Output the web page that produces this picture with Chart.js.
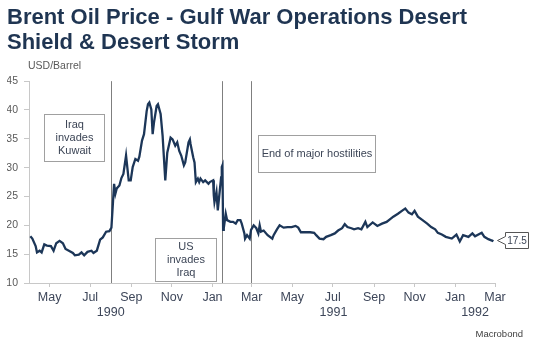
<!DOCTYPE html>
<html>
<head>
<meta charset="utf-8">
<script src="https://cdn.jsdelivr.net/npm/chart.js@4.4.1/dist/chart.umd.min.js"></script>
<style>
  html, body { margin: 0; padding: 0; background: #fff; }
  #wrap { width: 534px; height: 344px; }
</style>
</head>
<body>
<div id="wrap"><canvas id="oilChart" width="534" height="344"></canvas></div>
<script>
// Brent price readings (USD/Barrel)
const dates = [
  '1990-04-02','1990-04-05','1990-04-10','1990-04-12','1990-04-16','1990-04-19','1990-04-23','1990-04-27',
  '1990-05-03','1990-05-07','1990-05-11','1990-05-16','1990-05-21','1990-05-25','1990-05-30',
  '1990-06-05','1990-06-08','1990-06-14','1990-06-18','1990-06-22','1990-06-27',
  '1990-07-03','1990-07-06','1990-07-11','1990-07-16','1990-07-20','1990-07-25','1990-07-30',
  '1990-08-02','1990-08-06','1990-08-08','1990-08-10','1990-08-14','1990-08-17','1990-08-20','1990-08-24','1990-08-28','1990-08-31',
  '1990-09-03','1990-09-07','1990-09-11','1990-09-13','1990-09-17','1990-09-20','1990-09-24','1990-09-26','1990-09-28',
  '1990-10-01','1990-10-03','1990-10-05','1990-10-09','1990-10-11','1990-10-15','1990-10-18','1990-10-22','1990-10-25','1990-10-30',
  '1990-11-02','1990-11-06','1990-11-09','1990-11-12','1990-11-15','1990-11-19','1990-11-21','1990-11-26','1990-11-28','1990-11-29',
  '1990-12-03','1990-12-05','1990-12-07','1990-12-10','1990-12-12','1990-12-14','1990-12-18','1990-12-21','1990-12-26','1990-12-28',
  '1991-01-02','1991-01-03','1991-01-04','1991-01-07','1991-01-09','1991-01-11','1991-01-14','1991-01-15','1991-01-16',
  '1991-01-17','1991-01-18','1991-01-21','1991-01-23','1991-01-28',
  '1991-02-01','1991-02-05','1991-02-08','1991-02-12','1991-02-14','1991-02-18','1991-02-19','1991-02-22','1991-02-26','1991-02-28',
  '1991-03-04','1991-03-08','1991-03-11','1991-03-13','1991-03-15','1991-03-19','1991-03-25',
  '1991-04-01','1991-04-03','1991-04-08','1991-04-12','1991-04-18','1991-04-24','1991-04-30',
  '1991-05-06','1991-05-10','1991-05-14','1991-05-20','1991-05-28',
  '1991-06-03','1991-06-06','1991-06-11','1991-06-17','1991-06-21','1991-06-28',
  '1991-07-04','1991-07-09','1991-07-15','1991-07-19','1991-07-23','1991-07-29',
  '1991-08-02','1991-08-08','1991-08-13','1991-08-19','1991-08-22','1991-08-30',
  '1991-09-06','1991-09-13','1991-09-20','1991-09-30',
  '1991-10-07','1991-10-14','1991-10-18','1991-10-23','1991-10-28',
  '1991-11-01','1991-11-06','1991-11-13','1991-11-20','1991-11-26',
  '1991-12-02','1991-12-06','1991-12-12','1991-12-18','1991-12-27',
  '1992-01-03','1992-01-08','1992-01-13','1992-01-21','1992-01-27','1992-01-31',
  '1992-02-10','1992-02-14','1992-02-20','1992-02-26','1992-02-27'
];
const prices = [
  18.1, 17.7, 16.4, 15.3, 15.6, 15.3, 16.7, 16.5,
  16.4, 15.6, 16.9, 17.3, 16.9, 15.9, 15.6,
  15.2, 14.8, 14.9, 15.3, 14.8, 15.4,
  15.6, 15.2, 15.6, 17.5, 17.9, 18.9, 19.0,
  19.6, 27.2, 25.5, 26.4, 26.9, 28.2, 28.9, 32.1, 27.8, 27.8,
  30.1, 31.5, 31.2, 31.9, 34.7, 35.8, 39.8, 41.0, 41.3,
  40.1, 35.8, 37.8, 40.7, 41.0, 39.3, 35.5, 27.8, 32.6, 35.2,
  34.9, 33.8, 34.4, 32.9, 32.1, 30.4, 30.9, 34.4, 34.9, 34.1,
  31.8, 30.9, 27.5, 28.1, 27.5, 28.1, 27.5, 27.8, 27.2, 27.5,
  27.8, 25.2, 24.0, 25.8, 22.6, 24.9, 28.3, 30.1, 30.4,
  19.2, 19.5, 22.0, 20.9, 20.6,
  20.6, 20.3, 20.9, 20.9, 20.3, 18.6, 17.7, 18.3, 17.7, 19.2,
  20.0, 19.5, 18.6, 20.0, 18.9, 19.1, 18.3,
  17.7, 18.3, 19.3, 20.0, 19.6, 19.7, 19.7,
  19.9, 19.6, 18.8, 18.8, 18.8,
  18.7, 18.3, 17.7, 17.6, 18.0, 18.3,
  18.6, 19.1, 19.5, 20.2, 19.7, 19.5,
  19.3, 19.5, 19.3, 20.6, 19.7, 20.5,
  19.9, 20.3, 20.6, 21.5,
  22.0, 22.6, 22.9, 22.2, 21.9,
  22.5, 21.5, 20.9, 20.3, 19.7,
  19.3, 18.7, 18.4, 18.0, 17.7,
  18.4, 17.2, 18.3, 18.0, 18.6, 18.1,
  18.7, 18.0, 17.6, 17.3, 17.5
];

// axis
const axisStart = '1990-03-31';
const axisEnd = '1992-03-01';
const tickDates = ['1990-05-01','1990-07-01','1990-09-01','1990-11-01','1991-01-01','1991-03-01',
                   '1991-05-01','1991-07-01','1991-09-01','1991-11-01','1992-01-01','1992-03-01'];
const tickLabels = ['May','Jul','Sep','Nov','Jan','Mar','May','Jul','Sep','Nov','Jan','Mar'];
const yearDates = ['1990-08-01','1991-07-02','1992-01-31'];
const yearLabels = ['1990','1991','1992'];

// events + notes
const eventDates = ['1990-08-02','1991-01-16','1991-02-28'];
const noteText = [['Iraq','invades','Kuwait'], ['US','invades','Iraq'], ['End of major hostilities']];
const noteFrom = ['1990-04-22','1990-10-07','1991-03-10'];
const noteTo = ['1990-07-22','1991-01-06','1991-09-02'];
const noteTop = [39.3, 17.8, 35.7];
const noteBottom = [31.2, 10.4, 29.2];

const FONT = "'Liberation Sans', Arial, sans-serif";
Chart.defaults.font.family = FONT;

function dayNum(s) {
  const p = s.split('-');
  return (Date.UTC(+p[0], p[1] - 1, +p[2]) - Date.UTC(1990, 0, 1)) / 86400000;
}

const points = dates.map((d, i) => ({ x: dayNum(d), y: prices[i] }));

const overlay = {
  id: 'overlay',
  beforeDatasetsDraw(chart) {
    const { ctx, chartArea: a, scales: { x } } = chart;
    ctx.save();
    ctx.strokeStyle = '#7f7f7f';
    ctx.lineWidth = 1;
    eventDates.forEach(d => {
      const px = Math.round(x.getPixelForValue(dayNum(d))) + 0.5;
      ctx.beginPath();
      ctx.moveTo(px, a.top);
      ctx.lineTo(px, a.bottom);
      ctx.stroke();
    });
    ctx.restore();
  },
  afterDatasetsDraw(chart) {
    const { ctx, scales: { x, y } } = chart;
    ctx.save();
    // note boxes
    ctx.font = '11px ' + FONT;
    ctx.textAlign = 'center';
    ctx.textBaseline = 'middle';
    noteText.forEach((lines, i) => {
      const x0 = Math.round(x.getPixelForValue(dayNum(noteFrom[i]))) + 0.5;
      const x1 = Math.round(x.getPixelForValue(dayNum(noteTo[i]))) + 0.5;
      const y0 = Math.round(y.getPixelForValue(noteTop[i])) + 0.5;
      const y1 = Math.round(y.getPixelForValue(noteBottom[i])) + 0.5;
      ctx.fillStyle = '#fff';
      ctx.fillRect(x0, y0, x1 - x0, y1 - y0);
      ctx.strokeStyle = '#a0a0a0';
      ctx.lineWidth = 1;
      ctx.strokeRect(x0, y0, x1 - x0, y1 - y0);
      ctx.fillStyle = '#3c4556';
      const cy = (y0 + y1) / 2;
      const lh = 13;
      lines.forEach((t, j) => {
        ctx.fillText(t, (x0 + x1) / 2, cy + (j - (lines.length - 1) / 2) * lh);
      });
    });

    // last value tag
    const lastX = x.getPixelForValue(dayNum(dates[dates.length - 1]));
    const lastY = y.getPixelForValue(prices[prices.length - 1]);
    const tipX = Math.round(lastX) + 4.5;
    const bx = tipX + 8, bw = 23, bh = 16;
    const by = Math.round(lastY - bh / 2) + 0.5;
    ctx.beginPath();
    ctx.moveTo(tipX, Math.round(lastY) + 0.5);
    ctx.lineTo(bx, by + 4);
    ctx.lineTo(bx, by);
    ctx.lineTo(bx + bw, by);
    ctx.lineTo(bx + bw, by + bh);
    ctx.lineTo(bx, by + bh);
    ctx.lineTo(bx, by + bh - 4);
    ctx.closePath();
    ctx.fillStyle = '#fff';
    ctx.fill();
    ctx.strokeStyle = '#555';
    ctx.stroke();
    ctx.fillStyle = '#3c4556';
    ctx.font = '10px ' + FONT;
    ctx.fillText(prices[prices.length - 1].toFixed(1), bx + bw / 2, by + bh / 2 + 0.5);
    ctx.restore();
  },
  afterDraw(chart) {
    const { ctx, chartArea: a, scales: { x } } = chart;
    ctx.save();
    ctx.textBaseline = 'middle';
    // unit label
    ctx.fillStyle = '#595959';
    ctx.font = '10.5px ' + FONT;
    ctx.textAlign = 'left';
    ctx.fillText('USD/Barrel', a.left - 1, a.top - 15);
    // year row
    ctx.fillStyle = '#3d4659';
    ctx.font = '12.5px ' + FONT;
    ctx.textAlign = 'center';
    yearDates.forEach((d, i) => {
      ctx.fillText(yearLabels[i], x.getPixelForValue(dayNum(d)), a.bottom + 30);
    });
    // source
    ctx.fillStyle = '#404040';
    ctx.font = '9.5px ' + FONT;
    ctx.textAlign = 'right';
    ctx.fillText('Macrobond', chart.width - 11, chart.height - 10);
    ctx.restore();
  }
};

new Chart(document.getElementById('oilChart'), {
  type: 'line',
  data: {
    datasets: [{
      label: 'Brent',
      data: points,
      borderColor: '#1c3658',
      borderWidth: 2.3,
      pointRadius: 0,
      tension: 0,
      fill: false
    }]
  },
  options: {
    responsive: false,
    animation: false,
    layout: { padding: { top: 5, left: 7, right: 39, bottom: 0 } },
    plugins: {
      legend: { display: false },
      tooltip: { enabled: false },
      title: {
        display: true,
        text: ['Brent Oil Price - Gulf War Operations Desert', 'Shield & Desert Storm'],
        align: 'start',
        color: '#1f3552',
        font: { size: 22, weight: 'bold', lineHeight: 1.14 },
        padding: { top: 0, bottom: 26 }
      }
    },
    scales: {
      x: {
        type: 'linear',
        min: dayNum(axisStart),
        max: dayNum(axisEnd),
        afterBuildTicks: s => { s.ticks = tickDates.map(d => ({ value: dayNum(d) })); },
        afterFit: s => { s.height = 61; },
        ticks: {
          callback: (v, i) => tickLabels[i],
          color: '#3d4659',
          font: { size: 12.5 },
          padding: 3,
          maxRotation: 0,
          autoSkip: false
        },
        grid: { drawOnChartArea: false, tickLength: 4, color: '#c8c8c8' },
        border: { color: '#c8c8c8' }
      },
      y: {
        min: 10,
        max: 45,
        afterFit: s => { s.width = 22; },
        ticks: { stepSize: 5, color: '#595959', font: { size: 10.5 }, padding: 6 },
        grid: { drawOnChartArea: false, tickLength: 5, color: '#c8c8c8' },
        border: { color: '#c8c8c8' }
      }
    }
  },
  plugins: [overlay]
});
</script>
</body>
</html>
